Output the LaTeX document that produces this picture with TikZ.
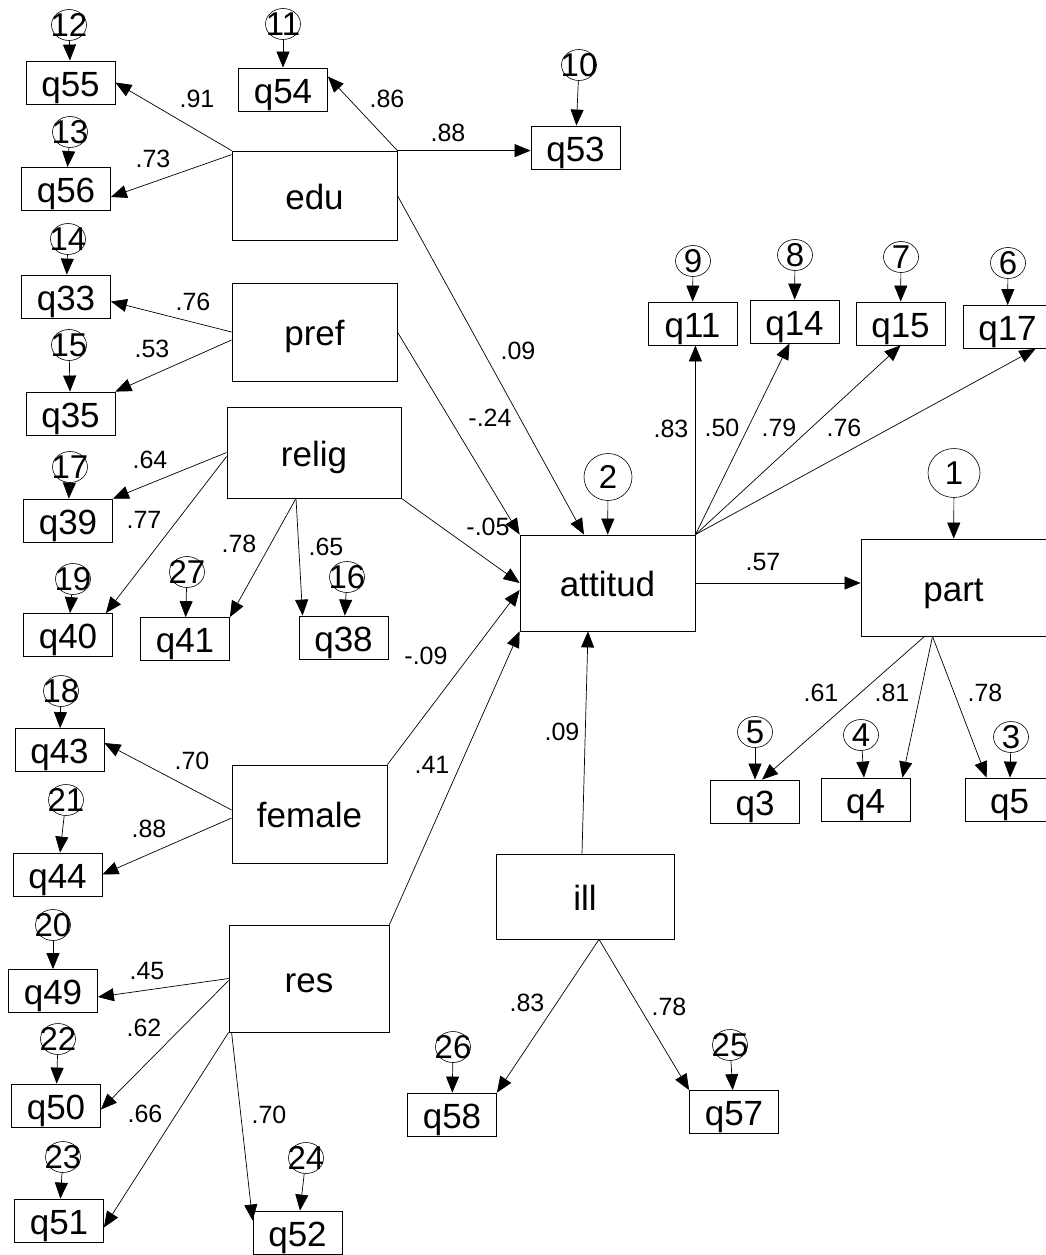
\documentclass[tikz,border=0pt]{standalone}
\usepackage{fontspec}
\setmainfont{Liberation Sans}
\usetikzlibrary{arrows.meta,shapes.geometric}

\begin{document}
\begin{tikzpicture}[x=1pt, y=-1pt,
		box/.style={draw, line width=0.8pt, inner sep=0pt, minimum width=89pt, minimum height=43pt, text height=27pt, text depth=0pt, font=\fontsize{35}{35}\selectfont},
		err/.style={draw, ellipse, line width=0.6pt, inner sep=0pt, minimum width=35pt, minimum height=31pt},
		num/.style={inner sep=0pt, font=\fontsize{33}{33}\selectfont},
		coef/.style={inner sep=0pt, font=\fontsize{25}{25}\selectfont},
		arr/.style={line width=0.7pt, -{Triangle[length=16pt, width=13pt]}}]
		\useasboundingbox (0, 0) rectangle (1045, 1255);

		\node[box, minimum width=165pt, minimum height=89pt] (edu) at (314.5, 195.5) {edu};
		\node[box, minimum width=165pt, minimum height=98pt] (pref) at (314.5, 332) {pref};
		\node[box, minimum width=174pt, minimum height=91pt] (relig) at (314, 452.5) {relig};
		\node[box, minimum width=155pt, minimum height=98pt] (female) at (309.5, 814) {female};
		\node[box, minimum width=160pt, minimum height=107pt] (res) at (309, 978.5) {res};
		\node[box, minimum width=175pt, minimum height=96pt] (attitud) at (607.5, 583) {attitud};
		\node[box, minimum width=185pt, minimum height=97pt] (part) at (953.5, 587.5) {part};
		\node[box, minimum width=178pt, minimum height=85pt] (ill) at (585, 896.5) {ill};

		\node[box] (q55) at (70.5, 82.5) {q55};
		\node[box] (q54) at (283, 89.5) {q54};
		\node[box] (q53) at (575.5, 147.5) {q53};
		\node[box] (q56) at (66, 189) {q56};
		\node[box] (q33) at (66, 296.5) {q33};
		\node[box] (q35) at (70.5, 413.5) {q35};
		\node[box] (q39) at (68, 520.5) {q39};
		\node[box] (q40) at (68, 635) {q40};
		\node[box] (q41) at (185, 639) {q41};
		\node[box] (q38) at (343.5, 637.5) {q38};
		\node[box] (q43) at (59.5, 750) {q43};
		\node[box] (q44) at (57.5, 874.5) {q44};
		\node[box] (q49) at (53, 991) {q49};
		\node[box] (q50) at (56, 1105.5) {q50};
		\node[box] (q51) at (59, 1220.5) {q51};
		\node[box] (q52) at (297.5, 1232.5) {q52};
		\node[box] (q58) at (452, 1114.5) {q58};
		\node[box] (q57) at (734, 1112) {q57};
		\node[box] (q11) at (692.5, 323.5) {q11};
		\node[box] (q14) at (794.5, 321.5) {q14};
		\node[box] (q15) at (900.5, 323.5) {q15};
		\node[box] (q17) at (1007.5, 327) {q17};
		\node[box] (q3) at (755, 801.5) {q3};
		\node[box] (q4) at (865.5, 799.5) {q4};
		\node[box] (q5) at (1009.5, 799.5) {q5};

		\foreach \nm/\px/\py/\lab in {e12/69/25/12, e11/283/24/11, e10/579/65/10, e13/70/132/13, e14/68/239/14, e15/69/345/15, e17/70/467/17, e19/73/579/19, e27/187/572/27, e16/347/577/16, e18/61/691/18, e21/66/800/21, e20/53/925/20, e22/58/1039/22, e23/63/1157/23, e24/306/1158/24, e26/453/1047/26, e25/730/1045/25, e9/693/261/9, e8/795/255/8, e7/901/257/7, e6/1008/263/6, e5/755/732/5, e4/861/735/4, e3/1011/737/3}
			\node[err, label={[num]center:\lab}] (\nm) at (\px, \py) {};
		\node[err, minimum width=48pt, minimum height=47pt, label={[num]center:2}] (e2) at (608, 477) {};
		\node[err, minimum width=52pt, minimum height=49pt, label={[num]center:1}] (e1) at (954, 473) {};

		\draw[arr] (e12) -- (q55);
		\draw[arr] (e11) -- (q54);
		\draw[arr] (e10) -- (q53);
		\draw[arr] (e13) -- (q56);
		\draw[arr] (e14) -- (q33);
		\draw[arr] (e15) -- (q35);
		\draw[arr] (e17) -- (q39);
		\draw[arr] (e19) -- (q40);
		\draw[arr] (e27) -- (q41);
		\draw[arr] (e16) -- (q38);
		\draw[arr] (e18) -- (q43);
		\draw[arr] (e21) -- (q44);
		\draw[arr] (e20) -- (q49);
		\draw[arr] (e22) -- (q50);
		\draw[arr] (e23) -- (q51);
		\draw[arr] (e24) -- (q52);
		\draw[arr] (e26) -- (q58);
		\draw[arr] (e25) -- (q57);
		\draw[arr] (e9) -- (q11);
		\draw[arr] (e8) -- (q14);
		\draw[arr] (e7) -- (q15);
		\draw[arr] (e6) -- (q17);
		\draw[arr] (e5) -- (q3);
		\draw[arr] (e4) -- (q4);
		\draw[arr] (e3) -- (q5);
		\draw[arr] (e2) -- (attitud);
		\draw[arr] (e1) -- (part);

		\draw[arr] (edu.north west) -- (q55.east);
		\draw[arr] ([yshift=-4pt]edu.north west) -- ([yshift=-8pt]q56.east);
		\draw[arr] (edu.north east) -- ([yshift=13pt]q54.east);
		\draw[arr] (edu.north east) -- (edu.north east -| q53.west);
		\draw[arr] (edu.east) -- ([xshift=-23.5pt]attitud.north);
		\draw[arr] (pref.west) -- ([yshift=-5pt]q33.east);
		\draw[arr] ([yshift=-8pt]pref.west) -- (q35.north east);
		\draw[arr] (pref.east) -- (attitud.north west);
		\draw[arr] (relig.west) -- (q39.north east);
		\draw[arr] ([yshift=-4pt]relig.west) -- ([xshift=-7pt]q40.north east);
		\draw[arr] ([xshift=-18pt]relig.south) -- (q41.north east);
		\draw[arr] ([xshift=-18pt]relig.south) -- ([xshift=4pt]q38.north west);
		\draw[arr] (relig.south east) -- (attitud.west);
		\draw[arr] ([yshift=4pt]female.west) -- ([yshift=7pt]q43.east);
		\draw[arr] ([yshift=-4pt]female.west) -- (q44.east);
		\draw[arr] (female.north east) -- ([yshift=-7pt]attitud.west);
		\draw[arr] (res.west) -- ([yshift=-6pt]q49.east);
		\draw[arr] ([yshift=-2pt]res.west) -- ([yshift=-4pt]q50.east);
		\draw[arr] (res.south west) -- ([yshift=-7pt]q51.east);
		\draw[arr] ([xshift=3pt]res.south west) -- ([yshift=12pt]q52.west);
		\draw[arr] (res.north east) -- (attitud.south west);
		\draw[arr] ([xshift=-3pt]ill.north) -- ([xshift=-19.5pt]attitud.south);
		\draw[arr] ([xshift=14pt]ill.south) -- (q58.north east);
		\draw[arr] ([xshift=14pt]ill.south) -- (q57.north west);
		\draw[arr] (attitud.north east) -- (attitud.north east |- q11.south);
		\draw[arr] (attitud.north east) -- ([xshift=-5pt]q14.south);
		\draw[arr] (attitud.north east) -- (q15.south);
		\draw[arr] (attitud.north east) -- ([xshift=-17pt]q17.south east);
		\draw[arr] (attitud.east) -- (attitud.east -| part.west);
		\draw[arr] ([xshift=-29pt]part.south) -- ([xshift=7pt]q3.north);
		\draw[arr] ([xshift=-21pt]part.south) -- ([xshift=-8pt]q4.north east);
		\draw[arr] ([xshift=-21pt]part.south) -- ([xshift=22pt]q5.north west);

		\node[coef] (c55) at (197, 99) {.91};
		\node[coef] (c54) at (387, 99) {.86};
		\node[coef] (c53) at (448, 133) {.88};
		\node[coef] (c56) at (153, 159) {.73};
		\node[coef] (cedu) at (518, 351) {.09};
		\node[coef] (c33) at (193, 302) {.76};
		\node[coef] (c35) at (152, 349) {.53};
		\node[coef] (cpref) at (490, 418) {-.24};
		\node[coef] (c39) at (150, 460) {.64};
		\node[coef] (c40) at (144, 520) {.77};
		\node[coef] (c41) at (239, 544) {.78};
		\node[coef] (c38) at (326, 547) {.65};
		\node[coef] (crelig) at (488, 527) {-.05};
		\node[coef] (cfemale) at (426, 656) {-.09};
		\node[coef] (c43) at (192, 761) {.70};
		\node[coef] (c44) at (149, 829) {.88};
		\node[coef] (cres) at (432, 765) {.41};
		\node[coef] (c49) at (147, 971) {.45};
		\node[coef] (c50) at (144, 1028) {.62};
		\node[coef] (c51) at (145, 1114) {.66};
		\node[coef] (c52) at (269, 1115) {.70};
		\node[coef] (c58) at (527, 1003) {.83};
		\node[coef] (c57) at (669, 1007) {.78};
		\node[coef] (cill) at (562, 732) {.09};
		\node[coef] (c11) at (671, 429) {.83};
		\node[coef] (c14) at (722, 428) {.50};
		\node[coef] (c15) at (779, 428) {.79};
		\node[coef] (c17) at (844, 428) {.76};
		\node[coef] (cpart) at (763, 562) {.57};
		\node[coef] (c3) at (821, 693) {.61};
		\node[coef] (c4) at (892, 693) {.81};
		\node[coef] (c5) at (985, 693) {.78};
	\end{tikzpicture}
\end{document}
